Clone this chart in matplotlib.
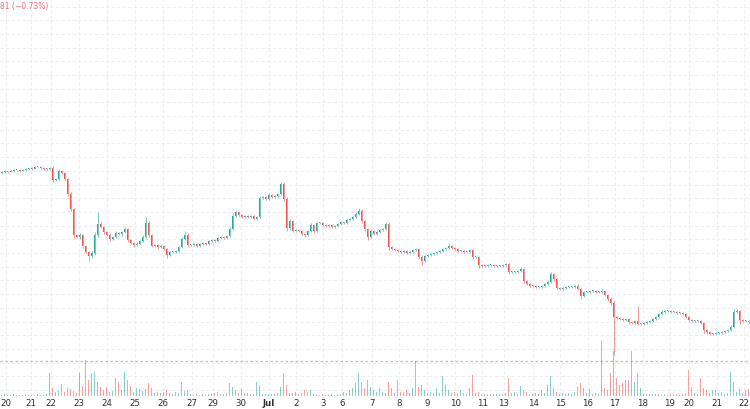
import numpy as np
import matplotlib
matplotlib.use('Agg')
import matplotlib.pyplot as plt

# close prices, one bar per ~3 px of the original (bars are index based, like TradingView)
closes = [
    32.7, 32.8, 32.7, 32.8, 32.9, 32.9, 32.8, 32.9, 33.0, 33.1, 33.0, 33.2, 33.2, 33.1, 33.0, 33.0,
    33.1, 31.9, 32.0, 32.8, 32.6, 32.0, 30.5, 29.0, 26.4, 26.2, 26.4, 25.3, 24.7, 24.3, 24.6, 26.4,
    27.5, 27.2, 26.7, 26.4, 26.0, 26.2, 26.6, 26.5, 26.7, 27.0, 25.9, 25.6, 25.4, 25.5, 25.8, 26.2,
    27.6, 26.4, 25.3, 25.4, 25.2, 25.3, 25.0, 24.4, 24.7, 24.7, 24.8, 25.2, 26.0, 26.4, 25.4, 25.4,
    25.5, 25.3, 25.5, 25.6, 25.5, 25.8, 25.9, 25.8, 26.1, 26.2, 26.1, 26.3, 27.0, 28.3, 28.7, 28.4,
    28.2, 28.3, 28.2, 28.3, 28.0, 28.2, 30.1, 30.2, 30.0, 30.4, 30.2, 30.3, 30.5, 31.5, 30.0, 27.1,
    27.8, 26.8, 26.9, 26.8, 26.5, 26.4, 26.8, 27.4, 26.8, 27.6, 27.6, 27.4, 27.3, 27.4, 27.2, 27.3,
    27.5, 27.7, 27.6, 27.9, 28.0, 28.2, 28.5, 28.8, 27.8, 27.0, 26.2, 26.8, 26.5, 26.7, 26.9, 27.0,
    27.5, 25.2, 25.0, 24.9, 24.8, 24.7, 24.8, 24.6, 24.7, 24.9, 25.0, 24.2, 23.8, 24.3, 24.4, 24.5,
    24.6, 24.7, 24.8, 25.0, 25.1, 25.3, 25.1, 25.0, 24.8, 24.8, 24.7, 24.7, 24.9, 24.2, 24.2, 23.4,
    23.3, 23.3, 23.4, 23.4, 23.3, 23.3, 23.3, 23.4, 23.5, 22.7, 22.7, 22.7, 22.8, 23.0, 21.8, 21.5,
    21.3, 21.3, 21.2, 21.2, 21.3, 21.5, 21.7, 22.5, 22.0, 21.1, 21.0, 21.1, 21.2, 21.2, 21.2, 21.3,
    21.0, 20.3, 20.7, 20.7, 20.8, 20.8, 20.7, 20.7, 20.8, 20.4, 20.0, 19.6, 18.2, 18.1, 18.0, 17.9,
    18.0, 17.7, 17.6, 17.8, 17.5, 17.5, 17.6, 17.7, 17.8, 18.0, 18.2, 18.5, 18.7, 18.8, 18.8, 18.7,
    18.7, 18.6, 18.6, 18.5, 18.2, 17.9, 17.8, 17.8, 17.8, 17.6, 16.9, 16.7, 16.5, 16.5, 16.6, 16.6,
    16.7, 16.8, 16.9, 17.2, 18.7, 18.8, 17.9, 17.8, 17.8, 17.7,
]
first_open = 32.6

# wick length above / below the body, in tenths of a price unit
wick_up = [
    1, 1, 0, 1, 1, 0, 1, 1, 1, 0, 1, 1, 0, 1, 1, 1,
    1, 2, 1, 2, 1, 1, 1, 2, 1, 1, 2, 1, 1, 1, 2, 3,
    12, 2, 1, 1, 2, 1, 2, 1, 1, 2, 1, 1, 1, 2, 1, 2,
    6, 2, 1, 1, 1, 2, 1, 1, 1, 1, 1, 1, 2, 4, 2, 1,
    1, 1, 1, 1, 1, 1, 1, 1, 1, 1, 1, 1, 2, 3, 2, 1,
    1, 1, 1, 1, 1, 1, 2, 1, 1, 2, 1, 1, 1, 2, 2, 2,
    2, 1, 1, 1, 1, 1, 1, 2, 1, 1, 1, 1, 1, 1, 1, 1,
    1, 1, 1, 1, 1, 1, 2, 3, 2, 1, 1, 2, 1, 2, 1, 1,
    2, 2, 1, 1, 1, 1, 1, 1, 1, 1, 1, 1, 2, 1, 1, 1,
    1, 1, 1, 1, 1, 2, 1, 1, 1, 1, 1, 1, 1, 1, 1, 1,
    1, 1, 1, 1, 1, 1, 1, 1, 1, 1, 1, 1, 1, 2, 1, 1,
    1, 1, 1, 1, 1, 1, 2, 2, 1, 1, 1, 1, 1, 1, 1, 1,
    2, 1, 1, 1, 1, 1, 1, 1, 2, 1, 1, 2, 2, 1, 1, 1,
    1, 1, 1, 1, 15, 1, 1, 1, 1, 1, 1, 1, 2, 1, 1, 1,
    1, 1, 1, 1, 1, 1, 1, 1, 1, 1, 1, 1, 1, 1, 1, 1,
    1, 1, 1, 2, 3, 2, 1, 1, 1, 1,
]
wick_dn = [
    1, 1, 1, 0, 1, 1, 1, 0, 1, 1, 1, 0, 1, 1, 1, 1,
    1, 2, 1, 1, 1, 1, 2, 2, 3, 1, 2, 2, 1, 5, 2, 2,
    2, 1, 2, 1, 2, 1, 1, 1, 2, 1, 2, 1, 2, 1, 1, 1,
    2, 2, 1, 1, 2, 1, 1, 3, 1, 1, 1, 1, 1, 1, 2, 1,
    1, 1, 1, 1, 1, 1, 1, 1, 1, 1, 1, 1, 1, 1, 1, 1,
    1, 1, 1, 1, 1, 1, 1, 1, 1, 1, 1, 1, 1, 1, 2, 3,
    2, 1, 1, 1, 1, 2, 1, 1, 2, 1, 1, 1, 1, 1, 1, 1,
    1, 1, 1, 1, 1, 1, 1, 1, 2, 2, 3, 1, 1, 1, 1, 1,
    1, 3, 1, 1, 1, 1, 1, 1, 1, 1, 1, 2, 4, 1, 1, 1,
    1, 1, 1, 1, 1, 1, 1, 1, 1, 1, 1, 1, 1, 2, 1, 3,
    1, 1, 1, 1, 1, 1, 1, 1, 1, 2, 1, 1, 1, 1, 2, 1,
    1, 1, 1, 1, 1, 1, 1, 1, 2, 1, 1, 1, 1, 1, 1, 1,
    1, 3, 1, 1, 1, 1, 1, 1, 1, 1, 2, 2, 38, 2, 1, 1,
    1, 2, 1, 1, 1, 1, 1, 1, 1, 1, 1, 1, 1, 1, 1, 1,
    1, 1, 1, 1, 1, 2, 1, 1, 1, 1, 3, 2, 1, 1, 1, 1,
    1, 1, 1, 1, 1, 1, 4, 1, 1, 1,
]

volumes = [
    1, 2, 1, 1, 2, 1, 1, 1, 2, 1, 1, 1, 2, 1, 1, 2,
    23, 8, 4, 5, 12, 4, 8, 7, 5, 3, 23, 10, 36, 16, 23, 24,
    14, 9, 6, 9, 4, 5, 18, 14, 6, 24, 16, 10, 4, 8, 7, 5,
    7, 13, 8, 3, 4, 3, 4, 6, 3, 2, 4, 3, 14, 5, 6, 2,
    1, 2, 1, 2, 1, 2, 2, 3, 4, 2, 2, 3, 13, 9, 6, 3,
    7, 3, 3, 2, 2, 14, 11, 2, 2, 2, 2, 2, 3, 9, 23, 11,
    3, 3, 4, 2, 3, 6, 4, 6, 2, 1, 1, 2, 1, 1, 2, 1,
    1, 2, 4, 3, 6, 8, 13, 23, 14, 8, 16, 9, 6, 4, 8, 4,
    3, 14, 8, 3, 16, 4, 4, 6, 3, 8, 35, 9, 11, 6, 3, 4,
    3, 8, 3, 20, 11, 6, 3, 4, 3, 6, 3, 2, 8, 21, 3, 4,
    2, 2, 2, 2, 2, 2, 2, 2, 3, 18, 3, 4, 2, 10, 6, 4,
    2, 2, 3, 2, 6, 3, 11, 20, 8, 4, 2, 3, 2, 3, 2, 4,
    9, 13, 8, 3, 7, 2, 3, 2, 55, 8, 6, 23, 45, 18, 11, 13,
    16, 16, 45, 14, 23, 8, 2, 2, 2, 2, 2, 2, 1, 2, 1, 2,
    1, 2, 1, 2, 3, 26, 9, 3, 2, 18, 8, 6, 3, 6, 6, 3,
    4, 2, 3, 24, 14, 4, 7, 3, 6, 7,
]

tick_pos = [1.5, 9.8, 16.5, 25.8, 35.2, 44.5, 53.8, 63.5, 70.5, 79.8, 89.2, 98.2, 107.2,
            113.5, 123.5, 132.5, 141.8, 151.2, 160.2, 167.5, 177.2, 186.2, 195.5, 204.5,
            213.8, 222.8, 229.2, 238.5, 247.5]
tick_labels = ['20', '21', '22', '23', '24', '25', '26', '27', '29', '30', 'Jul', '2', '3',
               '6', '7', '8', '9', '10', '11', '13', '14', '15', '16', '17',
               '18', '19', '20', '21', '22']
prev_close = 13.8

n = len(closes)
assert len(wick_up) == n and len(wick_dn) == n and len(volumes) == n, (n, len(wick_up), len(wick_dn), len(volumes))

up_col = '#26a69a'
dn_col = '#ef5350'

x = np.arange(n)
c = np.array(closes)
o = np.r_[first_open, c[:-1]]
is_up = c >= o
lo_b = np.minimum(o, c)
hi_b = np.maximum(o, c)
highs = hi_b + np.array(wick_up) / 10
lows = lo_b - np.array(wick_dn) / 10
cols = np.where(is_up, up_col, dn_col)

fig = plt.figure(figsize=(7.5, 4.1), dpi=100)
ax = fig.add_axes([0, 13 / 410, 1, 397 / 410])
axv = ax.twinx()

# volume pane (bottom ~55 px)
axv.bar(x, volumes, width=0.6, color=cols, alpha=0.55, linewidth=0)
axv.set_ylim(0, max(volumes) * 397 / 55)
axv.set_yticks([])
for s in axv.spines.values():
    s.set_visible(False)

# candles
ax.vlines(x, lows, highs, colors=cols, linewidth=0.6, alpha=0.7)
ax.bar(x, np.maximum(hi_b - lo_b, 0.1), bottom=lo_b, width=0.6, color=cols, linewidth=0)

ax.axhline(prev_close, color='#f7a3a9', linewidth=0.9, linestyle=(0, (2, 2)))

ax.set_xlim(-0.5, n - 0.5)
ax.set_ylim(10.3, 50)
ax.set_yticks(np.arange(49.25, 10.3, -1.37))
ax.tick_params(axis='y', left=False, labelleft=False)
ax.set_xticks(tick_pos, tick_labels)
ax.tick_params(axis='x', length=0, pad=1.5, labelsize=6.2, labelcolor='#2a2e39')
for lab in ax.get_xticklabels():
    if lab.get_text() == 'Jul':
        lab.set_fontweight('bold')
ax.grid(True, color='#eceef2', linestyle=(0, (3, 2)), linewidth=0.8)
ax.set_axisbelow(True)
for s in ax.spines.values():
    s.set_visible(False)

fig.text(0.0, 1 - 7 / 410, '81 (\u22120.73%)', color='#f26d7d', fontsize=5.5, ha='left', va='center')

fig.savefig('out.png', dpi=100)
